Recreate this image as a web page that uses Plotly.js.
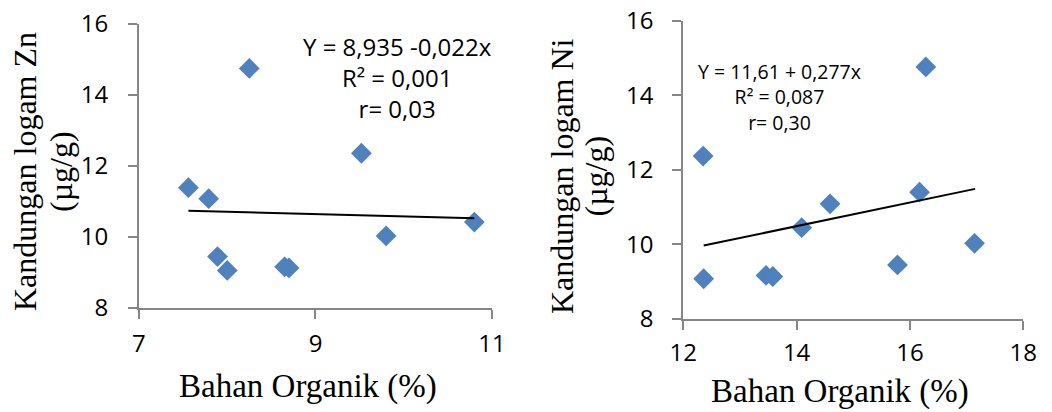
<!DOCTYPE html>
<html>
<head>
<meta charset="utf-8">
<script src="https://cdn.plot.ly/plotly-3.0.1.min.js"></script>
<style>html,body{margin:0;padding:0;background:#fff;}#chart{width:1052px;height:412px;}</style>
</head>
<body>
<div id="chart"></div>
<script>
// Left panel: Bahan Organik (%) vs Zn
const boZn = [7.56, 7.79, 8.25, 9.52, 7.89, 8.00, 8.65, 8.70, 9.80, 10.80];
const zn   = [11.39, 11.08, 14.75, 12.36, 9.45, 9.06, 9.16, 9.13, 10.03, 10.42];
const znTrendX = [7.56, 10.80];
const znTrendY = [10.74, 10.53];
const znEq = ["Y = 8,935 -0,022x", "R² = 0,001", "r= 0,03"];

// Right panel: Bahan Organik (%) vs Ni
const boNi = [16.17, 14.59, 16.28, 12.35, 15.78, 12.36, 13.46, 13.58, 17.14, 14.09];
const ni   = [11.40, 11.09, 14.76, 12.37, 9.45, 9.08, 9.17, 9.14, 10.03, 10.45];
const niTrendX = [12.36, 17.15];
const niTrendY = [9.97, 11.49];
const niEq = ["Y = 11,61 + 0,277x", "R² = 0,087", "r= 0,30"];

const xTitle = "Bahan Organik (%)";
const yTitleZn = ["Kandungan logam Zn", "(µg/g)"];
const yTitleNi = ["Kandungan logam Ni", "(µg/g)"];

const blue = "#4F81BD";
const gray = "#868686";
const tickFont = {family: "Open Sans", size: 24, color: "#000"};
const xTitleFont = {family: "Liberation Serif", size: 33, color: "#000"};
const yTitleFont = {family: "Liberation Serif", size: 32, color: "#000"};

const marker = {symbol: "diamond", size: 16, color: blue, line: {width: 0}};

const traces = [
  {x: boZn, y: zn, type: "scatter", mode: "markers", marker: marker, xaxis: "x", yaxis: "y"},
  {x: znTrendX, y: znTrendY, type: "scatter", mode: "lines", line: {color: "#000", width: 2}, xaxis: "x", yaxis: "y"},
  {x: boNi, y: ni, type: "scatter", mode: "markers", marker: marker, xaxis: "x2", yaxis: "y2"},
  {x: niTrendX, y: niTrendY, type: "scatter", mode: "lines", line: {color: "#000", width: 2}, xaxis: "x2", yaxis: "y2"}
];

function axisBase(extra) {
  return Object.assign({
    showgrid: false, zeroline: false, showline: true, linecolor: gray, linewidth: 2,
    ticks: "outside", ticklen: 9, tickwidth: 2, tickcolor: gray,
    tickfont: tickFont, dtick: 2, fixedrange: true
  }, extra);
}

function txt(x, y, text, font, angle) {
  return {xref: "paper", yref: "paper", x: x, y: y, text: text, textangle: angle || 0, showarrow: false,
          font: font, align: "center", xanchor: "center", yanchor: "middle"};
}

const layout = {
  width: 1052, height: 412,
  margin: {l: 0, r: 0, t: 0, b: 0},
  paper_bgcolor: "#fff", plot_bgcolor: "#fff",
  showlegend: false,
  xaxis: axisBase({domain: [0.1321, 0.4677], anchor: "y", range: [7, 11], tick0: 7, ticklabelstandoff: 4}),
  yaxis: axisBase({domain: [0.2524, 0.9417], anchor: "x", range: [8, 16], tick0: 8, ticklabelstandoff: 15}),
  xaxis2: axisBase({domain: [0.6495, 0.9727], anchor: "y2", range: [12, 18], tick0: 12, ticklabelstandoff: 2}),
  yaxis2: axisBase({domain: [0.2257, 0.9498], anchor: "x2", range: [8, 16], tick0: 8, ticklabelstandoff: 14}),
  annotations: [
    txt(0.2928, 0.0607, xTitle, xTitleFont),
    txt(0.7985, 0.0490, xTitle, xTitleFont),
    txt(0.0233, 0.5837, yTitleZn[0], yTitleFont, -90),
    txt(0.0575, 0.5837, yTitleZn[1], yTitleFont, -90),
    txt(0.5342, 0.5728, yTitleNi[0], yTitleFont, -90),
    txt(0.5670, 0.5728, yTitleNi[1], yTitleFont, -90),
    {xref: "x", yref: "y", x: 9.93, y: 14.48, text: znEq.join("<br>"), showarrow: false,
     font: {family: "Open Sans", size: 24, color: "#000"}, align: "center", xanchor: "center", yanchor: "middle"},
    {xref: "x2", yref: "y2", x: 13.69, y: 13.95, text: niEq.join("<br>"), showarrow: false,
     font: {family: "Open Sans", size: 19.5, color: "#000"}, align: "center", xanchor: "center", yanchor: "middle"}
  ]
};

Plotly.newPlot("chart", traces, layout, {staticPlot: true, displayModeBar: false});
</script>
</body>
</html>
